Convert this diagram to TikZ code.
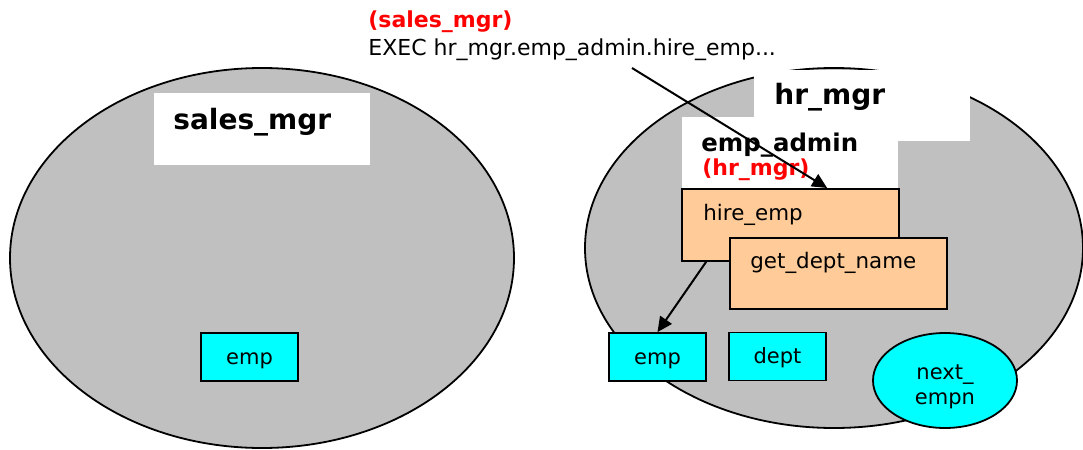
\documentclass[tikz,border=0pt]{standalone}
\usepackage{fontspec}
\setmainfont{DejaVu Sans}
\usetikzlibrary{arrows.meta,calc,shapes.geometric}
\definecolor{gris}{HTML}{C0C0C0}
\definecolor{peche}{HTML}{FFCC99}
\definecolor{turquoise}{HTML}{00FFFF}
\definecolor{rouge}{HTML}{FF0000}

\begin{document}
\begin{tikzpicture}[x=0.5pt, y=-0.5pt, >={Triangle[length=7.5pt,width=7pt]}]
\tikzstyle{schema}=[ellipse, draw, line width=0.9pt, fill=gris, inner sep=0pt]
\tikzstyle{titre}=[rectangle, fill=white, inner sep=0pt, anchor=north west]
\tikzstyle{proc}=[rectangle, draw, line width=0.9pt, fill=peche, inner sep=0pt, anchor=north west]
\tikzstyle{tabl}=[rectangle, draw, line width=0.9pt, fill=turquoise, inner sep=0pt, minimum width=48.5pt, minimum height=24pt, text height=7.5pt, text depth=0.5pt, font=\fontsize{10.5}{12.5}\selectfont]
\tikzstyle{texte}=[anchor=base west, inner sep=0pt, font=\fontsize{10.7}{12}\selectfont]
\tikzstyle{gras}=[texte, font=\bfseries\fontsize{14}{16}\selectfont]
\tikzstyle{role}=[texte, text=rouge, font=\bfseries\fontsize{11}{13}\selectfont]
\tikzstyle{fleche}=[->, line width=1pt]
\useasboundingbox (0,0) rectangle (1083,450);
% schema sales_mgr
\node[schema, minimum width=252pt, minimum height=190pt] (sales) at (262,258) {};
\node[titre, minimum width=108pt, minimum height=36pt] (salest) at (154,93) {};
\node[gras] (salesn) at (173,129) {sales\_mgr};
\node[tabl] (emp1) at (249.5,357) {emp};
% schema hr_mgr
\node[schema, minimum width=249pt, minimum height=180pt] (hr) at (834,248) {};
\node[titre, minimum width=108pt, minimum height=35.5pt] (hrt) at (754,70) {};
\node[gras] (hrn) at (774,104) {hr\_mgr};
\node[titre, minimum width=108pt, minimum height=36pt] (admt) at (682,117) {};
\node[texte, font=\bfseries\fontsize{12.2}{14}\selectfont] (admn) at (701,151) {emp\_admin};
\node[role] (admr) at (702,175) {(hr\_mgr)};
\node[proc, minimum width=108.5pt, minimum height=36pt] (hire) at (681,188) {};
\node[texte] (hiren) at (703,220) {hire\_emp};
\node[proc, minimum width=108.5pt, minimum height=35.5pt] (getd) at (729,237) {};
\node[texte] (getdn) at (750,268) {get\_dept\_name};
\node[tabl] (emp2) at (657.5,357) {emp};
\node[tabl] (dept) at (777.5,356.5) {dept};
\node[tabl, ellipse, minimum width=72pt, minimum height=47.5pt,
  label={[name=nextn, align=center, yshift=-3pt, font=\fontsize{10.5}{12.5}\selectfont]center:next\_\\empn}] (next) at (945,380.5) {};
% appel
\node[role] (appel) at (368,27) {(sales\_mgr)};
\node[texte, font=\fontsize{11}{13}\selectfont] (exec) at (368,55) {EXEC hr\_mgr.emp\_admin.hire\_emp...};
\coordinate (depart) at (632,68);
\draw[fleche] (depart) -- ($(hire.north west)!0.668!(hire.north east)$);
\draw[fleche] ($(hire.south west)!0.115!(hire.south east)$) -- (emp2.north);
\end{tikzpicture}
\end{document}
